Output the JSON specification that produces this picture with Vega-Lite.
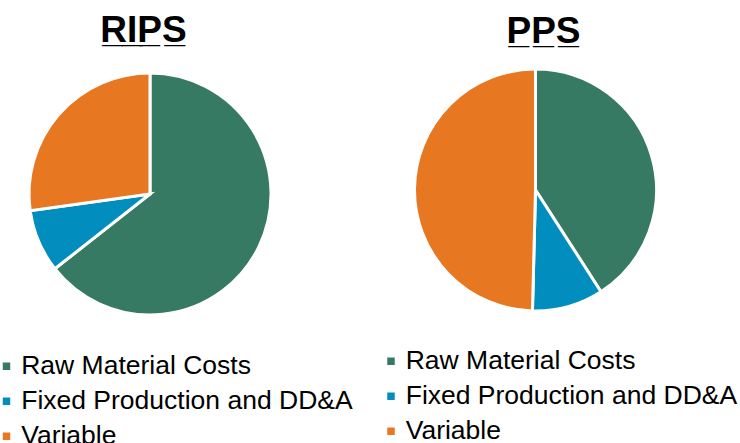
{
  "$schema": "https://vega.github.io/schema/vega-lite/v6.json",
  "background": "white",
  "padding": {"left": 2, "top": 12, "right": 0, "bottom": 0},
  "bounds": "flush",
  "spacing": 143.5,
  "datasets": {
    "rips": [
      {"cost": "Raw Material Costs", "share": 64.4},
      {"cost": "Fixed Production and DD&A", "share": 8.4},
      {"cost": "Variable", "share": 27.2}
    ],
    "pps": [
      {"cost": "Raw Material Costs", "share": 40.9},
      {"cost": "Fixed Production and DD&A", "share": 9.5},
      {"cost": "Variable", "share": 49.6}
    ]
  },
  "config": {
    "view": {"stroke": null},
    "font": "Liberation Sans",
    "title": {"font": "Liberation Sans", "fontSize": 37, "fontWeight": "bold", "color": "#000000"},
    "legend": {
      "title": null,
      "symbolType": "square",
      "symbolSize": 56,
      "symbolStrokeWidth": 0,
      "symbolOffset": -9.25,
      "labelFont": "Liberation Sans",
      "labelFontSize": 26.5,
      "labelColor": "#000000",
      "labelOffset": 1.45,
      "labelLimit": 500,
      "rowPadding": 8,
      "padding": 0,
      "offset": 0
    }
  },
  "resolve": {"scale": {"color": "independent"}},
  "hconcat": [
    {
      "title": {"text": "R̲I̲P̲S̲", "offset": 17, "dx": -6.5},
      "width": 242,
      "height": 250,
      "data": {"name": "rips"},
      "transform": [{"window": [{"op": "row_number", "as": "slice"}]}],
      "mark": {"type": "arc", "stroke": "white", "strokeWidth": 3},
      "encoding": {
        "theta": {"field": "share", "type": "quantitative", "stack": true},
        "order": {"field": "slice", "type": "quantitative"},
        "color": {
          "field": "cost",
          "type": "nominal",
          "sort": ["Raw Material Costs", "Fixed Production and DD&A", "Variable"],
          "scale": {
            "domain": ["Raw Material Costs", "Fixed Production and DD&A", "Variable"],
            "range": ["#367A63", "#028DBF", "#E87722"]
          },
          "legend": {"orient": "none", "legendX": -26.5, "legendY": 284}
        }
      }
    },
    {
      "title": {"text": "P̲P̲S̲", "offset": 12, "dx": 8},
      "width": 242,
      "height": 242,
      "data": {"name": "pps"},
      "transform": [{"window": [{"op": "row_number", "as": "slice"}]}],
      "mark": {"type": "arc", "stroke": "white", "strokeWidth": 3},
      "encoding": {
        "theta": {"field": "share", "type": "quantitative", "stack": true},
        "order": {"field": "slice", "type": "quantitative"},
        "color": {
          "field": "cost",
          "type": "nominal",
          "sort": ["Raw Material Costs", "Fixed Production and DD&A", "Variable"],
          "scale": {
            "domain": ["Raw Material Costs", "Fixed Production and DD&A", "Variable"],
            "range": ["#367A63", "#028DBF", "#E87722"]
          },
          "legend": {"orient": "none", "legendX": -27.5, "legendY": 279}
        }
      }
    }
  ]
}
